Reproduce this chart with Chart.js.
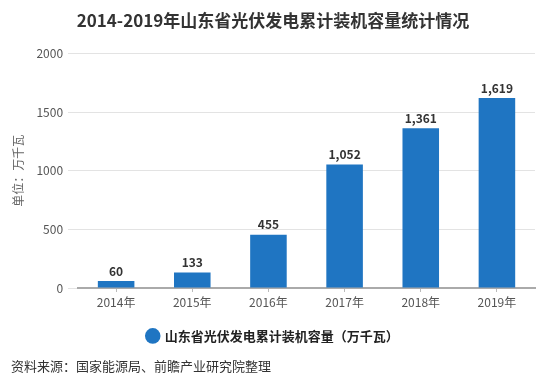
<!DOCTYPE html>
<html>
<head>
<meta charset="utf-8">
<script src="https://cdn.jsdelivr.net/npm/chart.js@4"></script>
<style>
  html, body { margin: 0; padding: 0; background: #fff; }
  #wrap { width: 550px; height: 388px; }
</style>
</head>
<body>
<div id="wrap"><canvas id="chart"></canvas></div>
<script>
// chart data
const years = ['2014年', '2015年', '2016年', '2017年', '2018年', '2019年'];
const capacity = [60, 133, 455, 1052, 1361, 1619];
const yTicks = [0, 500, 1000, 1500, 2000];
const seriesName = '山东省光伏发电累计装机容量（万千瓦）';
const chartTitle = '2014-2019年山东省光伏发电累计装机容量统计情况';
const sourceNote = '资料来源：国家能源局、前瞻产业研究院整理';

const FONT = '"Microsoft YaHei", "Noto Sans CJK SC", "Noto Sans", sans-serif';
const barColor = '#1f75c2';

// value labels above each bar
const barLabels = {
    id: 'barLabels',
    afterDatasetsDraw(chart) {
        const ctx = chart.ctx;
        const meta = chart.getDatasetMeta(0);
        ctx.save();
        ctx.font = 'bold 12px ' + FONT;
        ctx.fillStyle = '#333';
        ctx.textAlign = 'center';
        ctx.textBaseline = 'bottom';
        meta.data.forEach((bar, i) => {
            ctx.fillText(capacity[i].toLocaleString('en-US'), bar.x, bar.y - 4);
        });
        ctx.restore();
    }
};

new Chart(document.getElementById('chart'), {
    type: 'bar',
    data: {
        labels: years,
        datasets: [{
            label: seriesName,
            data: capacity,
            backgroundColor: barColor,
            categoryPercentage: 1,
            barPercentage: 0.48
        }]
    },
    options: {
        responsive: true,
        maintainAspectRatio: false,
        animation: false,
        layout: { padding: { left: 11, right: 15, top: 0, bottom: 0 } },
        plugins: {
            title: {
                display: true,
                text: chartTitle,
                color: '#333',
                font: { family: FONT, size: 17, weight: 'bold' },
                padding: { top: 10, bottom: 23 }
            },
            subtitle: {
                display: true,
                text: sourceNote,
                position: 'bottom',
                align: 'start',
                color: '#333',
                font: { family: FONT, size: 13 },
                padding: { top: 6, bottom: 14 }
            },
            legend: {
                position: 'bottom',
                labels: {
                    usePointStyle: true,
                    pointStyle: 'circle',
                    boxWidth: 11,
                    boxHeight: 11,
                    color: '#222',
                    font: { family: FONT, size: 13, weight: 'bold' },
                    padding: 12
                }
            },
            tooltip: { enabled: false }
        },
        scales: {
            x: {
                afterFit(axis) {
                    axis.height += 5;
                },
                grid: {
                    offset: false,
                    drawOnChartArea: false,
                    tickLength: 4,
                    color: '#bbb'
                },
                border: { display: true, color: '#aaa', width: 2 },
                ticks: {
                    color: '#555',
                    padding: 3,
                    font: { family: FONT, size: 12 }
                }
            },
            y: {
                min: 0,
                max: 2000,
                afterBuildTicks(axis) {
                    axis.ticks = yTicks.map(v => ({ value: v }));
                },
                grid: { color: '#e3e3e3', tickLength: 10 },
                border: { display: false },
                ticks: {
                    color: '#555',
                    padding: 5,
                    font: { family: FONT, size: 12 },
                    callback: v => String(v)
                },
                title: {
                    display: true,
                    text: '单位：万千瓦',
                    color: '#666',
                    font: { family: FONT, size: 12 },
                    padding: { top: 0, bottom: 6 }
                }
            }
        }
    },
    plugins: [barLabels]
});
</script>
</body>
</html>
